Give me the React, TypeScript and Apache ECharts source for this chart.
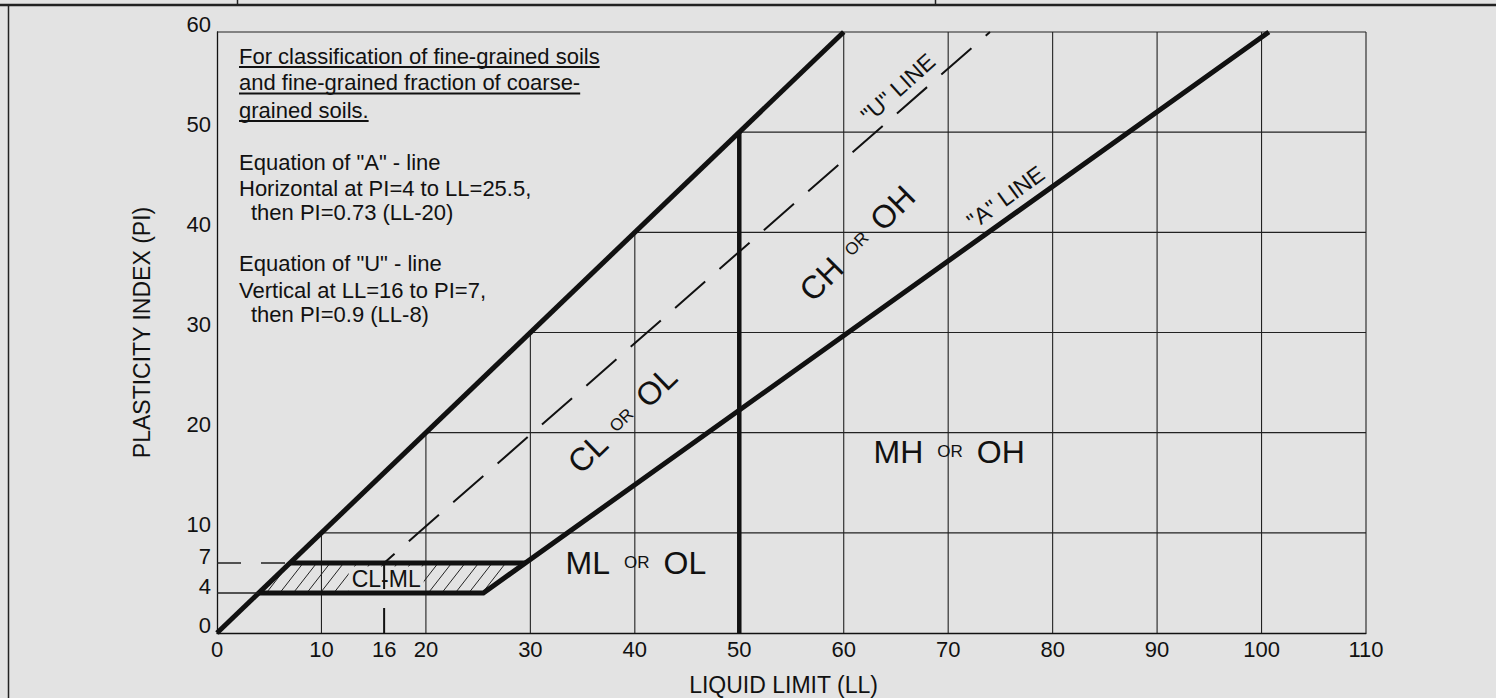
import React, { useEffect, useRef } from "react";
import * as echarts from "echarts";

// ---- axis ticks ----
const xTicks = [0, 10, 20, 30, 40, 50, 60, 70, 80, 90, 100, 110];
const yTicks = [0, 10, 20, 30, 40, 50, 60];
const extraXTicks = [16];
const extraYTicks = [4, 7];

// ---- chart lines (LL, PI) ----
const upperLimitLine = [[0, 0], [60, 60]]; // PI = LL
const aLine = [[4, 4], [25.5, 4], [100.7, 60]];
const clmlTopLine = [[7, 7], [29.5, 7]];
const ll50Line = [[50, 0], [50, 50]];
const uLine = [[16, 0], [16, 7], [74, 60]];
const pi4Lead = [[0, 4], [4, 4]];
const pi7Lead = [[0, 7], [7, 7]];
const clmlZone = [[4, 4], [25.5, 4], [29.5, 7], [7, 7]];

// ---- texts ----
const noteLines = [
  "For classification of fine-grained soils",
  "and fine-grained fraction of coarse-",
  "grained soils.",
];
const aEquation = ['Equation of "A" - line', "Horizontal at PI=4 to LL=25.5,", "then PI=0.73 (LL-20)"];
const uEquation = ['Equation of "U" - line', "Vertical at LL=16 to PI=7,", "then PI=0.9 (LL-8)"];

const zoneLabels = [
  { text: "{b|CL}{s|OR}{b|OL}", ll: 38.8, pi: 21.3, rotate: 44 },
  { text: "{b|CH}{s|OR}{b|OH}", ll: 61.3, pi: 38.9, rotate: 45 },
  { text: "{b|MH}{s|OR}{b|OH}", ll: 70.1, pi: 18.1, rotate: 0 },
  { text: "{b|ML}{s|OR}{b|OL}", ll: 40.1, pi: 7.0, rotate: 0 },
  { text: '{m|"U" LINE}', ll: 65.2, pi: 54.4, rotate: 42 },
  { text: '{m|"A" LINE}', ll: 75.5, pi: 43.5, rotate: 36 },
  { text: "{c|CL-ML}", ll: 16.2, pi: 5.4, rotate: 0 },
];

const X_MIN = 0, X_MAX = 110, Y_MIN = 0, Y_MAX = 60;
const BG = "#e3e3e3";
const INK = "#111";
const FF = '"Liberation Sans", Arial, Helvetica, sans-serif';

function measure(text: string, font: string): number {
  const c = document.createElement("canvas").getContext("2d");
  if (!c) return text.length * 10;
  c.font = font;
  return c.measureText(text).width;
}

function buildOption() {
  const gridData = [
    ...xTicks.filter((v) => v > X_MIN).map((v) => [0, v]),
    ...yTicks.filter((v) => v > Y_MIN).map((v) => [1, v]),
  ];

  const noteFont = `22px ${FF}`;
  const graphic: any[] = [];
  const noteX = 239;
  const noteY = [56, 82.5, 110];
  noteLines.forEach((t, i) => {
    graphic.push({
      type: "text", x: noteX, y: noteY[i], silent: true,
      style: { text: t, font: noteFont, fill: INK, align: "left", verticalAlign: "middle" },
    });
    const w = measure(t, noteFont);
    graphic.push({
      type: "line", silent: true,
      shape: { x1: noteX, y1: noteY[i] + 11, x2: noteX + w, y2: noteY[i] + 11 },
      style: { stroke: INK, lineWidth: 1.8 },
    });
  });
  const eqY = [[162, 188.5, 212], [263, 290, 314]];
  [aEquation, uEquation].forEach((lines, j) => {
    lines.forEach((t, i) => {
      graphic.push({
        type: "text", x: noteX + (i === 2 ? 12 : 0), y: eqY[j][i], silent: true,
        style: { text: t, font: noteFont, fill: INK, align: "left", verticalAlign: "middle" },
      });
    });
  });
  // scan frame remnants
  graphic.push(
    { type: "line", silent: true, shape: { x1: 0, y1: 5, x2: 1496, y2: 5 }, style: { stroke: "#222", lineWidth: 2.5 } },
    { type: "line", silent: true, shape: { x1: 8.5, y1: 5, x2: 8.5, y2: 698 }, style: { stroke: "#222", lineWidth: 1.5 } },
    { type: "line", silent: true, shape: { x1: 237.5, y1: 0, x2: 237.5, y2: 5 }, style: { stroke: "#222", lineWidth: 1.5 } },
    { type: "line", silent: true, shape: { x1: 935.5, y1: 0, x2: 935.5, y2: 5 }, style: { stroke: "#222", lineWidth: 1.5 } }
  );

  const thick = { width: 5, color: "#111", cap: "butt", join: "miter" };
  const lineSeries = (name: string, data: number[][], lineStyle: any) => ({
    type: "line", name, data, symbol: "none", silent: true, z: 3, animation: false,
    lineStyle,
  });

  const yLabelBase = {
    fontSize: 22, color: INK, margin: 6, fontFamily: FF,
    verticalAlign: "bottom", lineHeight: 16,
  };

  return {
    animation: false,
    backgroundColor: BG,
    textStyle: { fontFamily: FF },
    grid: { left: 217, right: 130, top: 32, bottom: 65, containLabel: false, outerBoundsMode: "none" },
    xAxis: [
      {
        type: "value", min: X_MIN, max: X_MAX, interval: 10, position: "bottom",
        axisLine: { show: true, onZero: false, lineStyle: { color: INK, width: 1.3 } },
        axisTick: { show: false }, splitLine: { show: false },
        axisLabel: { fontSize: 22, color: INK, margin: 5, fontFamily: FF },
        name: "LIQUID LIMIT (LL)", nameLocation: "middle", nameGap: 40,
        nameTextStyle: { fontSize: 23, color: INK, fontFamily: FF, padding: [0, 16, 0, 0] },
      },
      {
        type: "value", min: X_MIN, max: X_MAX, interval: 16, position: "bottom",
        axisLine: { show: false }, axisTick: { show: false }, splitLine: { show: false },
        axisLabel: {
          fontSize: 22, color: INK, margin: 5, fontFamily: FF,
          formatter: (v: number) => (extraXTicks.includes(Math.round(v)) ? String(Math.round(v)) : ""),
        },
      },
    ],
    yAxis: [
      {
        type: "value", min: Y_MIN, max: Y_MAX, interval: 10, position: "left",
        axisLine: { show: true, onZero: false, lineStyle: { color: INK, width: 1.3 } },
        axisTick: { show: false }, splitLine: { show: false },
        axisLabel: { ...yLabelBase },
        name: "PLASTICITY INDEX (PI)", nameLocation: "middle", nameGap: 64, nameRotate: 90,
        nameTextStyle: { fontSize: 23, color: INK, fontFamily: FF },
      },
      {
        type: "value", min: Y_MIN, max: Y_MAX, interval: 1, position: "left",
        axisLine: { show: false }, axisTick: { show: false }, splitLine: { show: false },
        axisLabel: {
          ...yLabelBase, lineHeight: 13,
          formatter: (v: number) => (extraYTicks.includes(Math.round(v)) ? String(Math.round(v)) : ""),
        },
      },
    ],
    graphic,
    series: [
      {
        type: "custom", name: "grid", silent: true, z: 1, data: gridData,
        renderItem: (_p: any, api: any) => {
          const kind = api.value(0);
          const v = api.value(1);
          let p1, p2;
          if (kind === 0) {
            p1 = api.coord([v, Y_MIN]);
            p2 = api.coord([v, Math.min(v, Y_MAX)]);
          } else {
            const start = v >= Y_MAX ? X_MIN : v;
            p1 = api.coord([start, v]);
            p2 = api.coord([X_MAX, v]);
          }
          return {
            type: "line",
            shape: { x1: p1[0], y1: p1[1], x2: p2[0], y2: p2[1] },
            style: { stroke: "#222", lineWidth: 1.1 },
          };
        },
      },
      {
        type: "custom", name: "hatch", silent: true, z: 1, data: [[clmlZone[0][0], clmlZone[0][1]]],
        renderItem: (_p: any, api: any) => {
          const P = clmlZone.map((p) => api.coord(p));
          const [b0, b1, t1, t0] = P;
          const yb = b0[1], yt = t0[1], h = yb - yt;
          const dL = t0[0] - b0[0], dR = t1[0] - b1[0];
          const k = 0.78, step = 13.5;
          const children: any[] = [];
          for (let xb = b0[0] - k * h + 4; xb <= b1[0]; xb += step) {
            let s0 = 0, s1 = 1;
            const a = xb - b0[0], c = k * h - dL;
            if (Math.abs(c) < 1e-9) { if (a < 0) continue; }
            else if (c > 0) s0 = Math.max(s0, -a / c);
            else s1 = Math.min(s1, -a / c);
            const a2 = xb - b1[0], c2 = k * h - dR;
            if (Math.abs(c2) < 1e-9) { if (a2 > 0) continue; }
            else if (c2 > 0) s1 = Math.min(s1, -a2 / c2);
            else s0 = Math.max(s0, -a2 / c2);
            if (s1 - s0 <= 0.03) continue;
            children.push({
              type: "line",
              shape: { x1: xb + k * h * s0, y1: yb - h * s0, x2: xb + k * h * s1, y2: yb - h * s1 },
              style: { stroke: "#222", lineWidth: 1 },
            });
          }
          return { type: "group", children };
        },
      },
      {
        type: "scatter", name: "labels", silent: true, z: 2, symbolSize: 1,
        itemStyle: { color: "rgba(0,0,0,0)", opacity: 1 },
        data: zoneLabels.map((z) => ({
          value: [z.ll, z.pi],
          label: { rotate: z.rotate, formatter: z.text },
        })),
        label: {
          show: true, position: "inside", align: "center", verticalAlign: "middle",
          color: INK, fontFamily: FF, opacity: 1,
          rich: {
            b: { fontSize: 32, fontFamily: FF, color: INK },
            s: { fontSize: 17, fontFamily: FF, color: INK, padding: [0, 14, 0, 14] },
            m: { fontSize: 23, fontFamily: FF, color: INK },
            c: { fontSize: 23, fontFamily: FF, color: INK, backgroundColor: BG, padding: [1, 3, 1, 3] },
          },
        },
      },
      lineSeries("PI=LL", upperLimitLine, thick),
      lineSeries("A-line", aLine, thick),
      lineSeries("CL-ML top", clmlTopLine, thick),
      lineSeries("LL=50", ll50Line, { ...thick, width: 4.5 }),
      lineSeries("U-line", uLine, { width: 2, color: "#111", type: [40, 19], dashOffset: 15 }),
      lineSeries("PI=4", pi4Lead, { width: 1.5, color: "#222" }),
      lineSeries("PI=7", pi7Lead, { width: 1.5, color: "#222", type: [24, 20] }),
    ],
  };
}

export default function App() {
  const ref = useRef<HTMLDivElement>(null);
  useEffect(() => {
    const el = ref.current;
    if (!el) return;
    const chart = echarts.init(el, null, { renderer: "svg" });
    chart.setOption(buildOption() as any);
    return () => chart.dispose();
  }, []);
  return (
    <div
      ref={ref}
      style={{ position: "fixed", left: 0, top: 0, width: 1496, height: 698, background: BG }}
    />
  );
}
